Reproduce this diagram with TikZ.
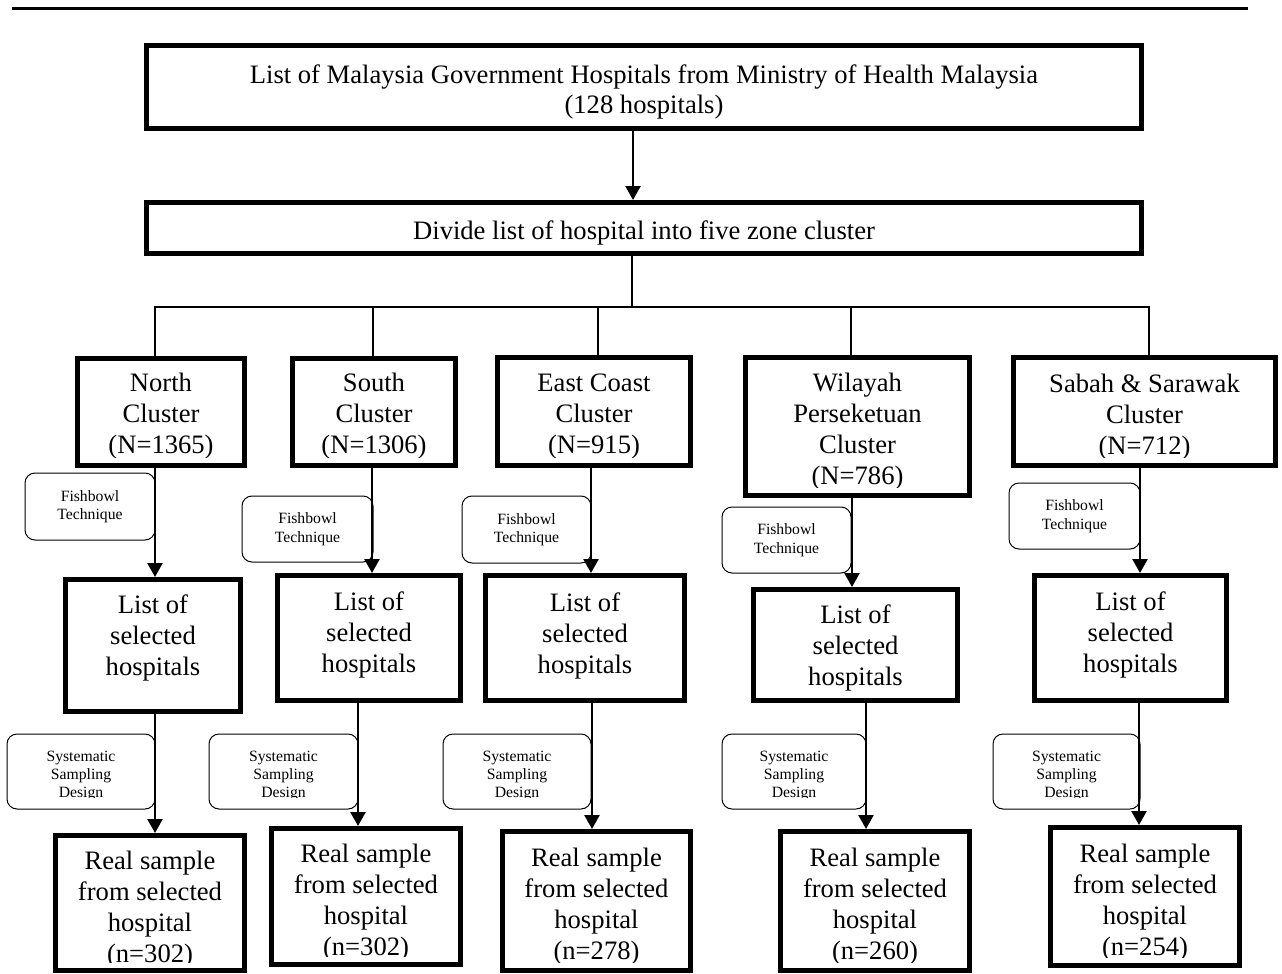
\documentclass[tikz,border=0pt]{standalone}
\usepackage{fontspec}
\setmainfont{Liberation Serif}
\usetikzlibrary{arrows.meta}
% frame node (#1) at (#2,#3), size #4 x #5, its text centred at height #6,
% cut off slightly above the lower border
\newcommand\zonebox[7]{%
  \node[bigbox, minimum width=#4pt, minimum height=#5pt] (#1) at (#2,#3) {};
  \begin{scope}
    \clip ([xshift=2.5pt,yshift=-2.5pt]#1.north west) rectangle ([xshift=-2.5pt,yshift=10.5pt]#1.south east);
    \node[boxtext] (#1t) at (#2,#6) {#7};
  \end{scope}}
\begin{document}
\begin{tikzpicture}[x=1pt,y=-1pt,
  bigbox/.style={draw, line width=5pt, rectangle, inner sep=0pt},
  boxtext/.style={align=center, inner sep=0pt, font=\fontsize{26.6}{31}\selectfont},
  note/.style={draw, line width=1pt, rounded corners=10pt, align=center, inner sep=0pt,
    minimum height=66pt, font=\fontsize{15.7}{18.5}\selectfont},
  notetext/.style={align=center, inner sep=0pt, font=\fontsize{15.7}{18}\selectfont},
  arr/.style={line width=2.5pt, -{Triangle[width=15pt,length=14pt]}},
  branch/.style={line width=2pt},
]
\useasboundingbox (0,0) rectangle (1282,974);

% header rule
\draw[line width=3pt] (12,9) -- (1248,9);

% source list and division into zones
\node[bigbox, minimum width=995pt, minimum height=83pt] (top) at (644,87) {};
\node[boxtext, font=\fontsize{26.6}{30}\selectfont] (topt) at (644,92)
  {List of Malaysia Government Hospitals from Ministry of Health Malaysia\\(128 hospitals)};
\node[bigbox, minimum width=995pt, minimum height=51pt] (divide) at (644,228) {};
\node[boxtext] (dividet) at (644,233) {Divide list of hospital into five zone cluster};
\draw[arr] ([xshift=-11pt]top.south) -- ([xshift=-11pt]divide.north);

% zone clusters
\zonebox{nc}{161}{412}{167}{107}{416}{North\\Cluster\\(N=1365)}
\zonebox{sc}{374}{412}{163}{107}{416}{South\\Cluster\\(N=1306)}
\zonebox{ec}{594}{411.5}{193}{108}{416.5}{East Coast\\Cluster\\(N=915)}
\zonebox{wc}{857.5}{426.5}{224}{138}{432}{Wilayah\\Perseketuan\\Cluster\\(N=786)}
\zonebox{bc}{1144.5}{411.5}{262}{108}{417.5}{Sabah \& Sarawak\\Cluster\\(N=712)}

% branching tree
\coordinate (hub) at (632,307);
\draw[branch] ([xshift=-12pt]divide.south) -- (hub);
\draw[branch] (hub) -| ([xshift=-6pt]nc.north);
\draw[branch] (hub) -| ([xshift=-1pt]sc.north);
\draw[branch] (hub) -| ([xshift=4pt]ec.north);
\draw[branch] (hub) -| ([xshift=-6.5pt]wc.north);
\draw[branch] (hub) -| ([xshift=4.5pt]bc.north);

% lists of selected hospitals
\zonebox{nl}{153}{645.5}{175}{132}{638}{List of\\selected\\hospitals}
\zonebox{sl}{369}{638}{183}{125}{635}{List of\\selected\\hospitals}
\zonebox{el}{585}{638}{199}{125}{635.5}{List of\\selected\\hospitals}
\zonebox{wl}{855.5}{645}{204}{111}{648}{List of\\selected\\hospitals}
\zonebox{bl}{1130.5}{638}{192}{125}{635}{List of\\selected\\hospitals}

% fishbowl labels
\node[note, minimum width=130pt, minimum height=67pt] (nf) at (90,506.5) {Fishbowl\\Technique};
\node[note, minimum width=131pt] (sf) at (307.5,529) {Fishbowl\\Technique};
\node[note, minimum width=129pt, minimum height=67pt] (ef) at (526.5,529.5) {Fishbowl\\Technique};
\node[note, minimum width=129pt] (wf) at (786.5,540) {Fishbowl\\Technique};
\node[note, minimum width=131pt] (bf) at (1074.5,516) {Fishbowl\\Technique};

\draw[arr] ([xshift=-6pt]nc.south) -- ([xshift=2pt]nl.north);
\draw[arr] ([xshift=-2pt]sc.south) -- ([xshift=3pt]sl.north);
\draw[arr] ([xshift=-3pt]ec.south) -- ([xshift=6pt]el.north);
\draw[arr] ([xshift=-5.5pt]wc.south) -- ([xshift=-3.5pt]wl.north);
\draw[arr] ([xshift=-4.5pt]bc.south) -- ([xshift=9.5pt]bl.north);

% real samples
\zonebox{nr}{150}{903}{189}{135}{910}{Real sample\\from selected\\hospital\\(n=302)}
\zonebox{sr}{366}{896.5}{189}{136}{903}{Real sample\\from selected\\hospital\\(n=302)}
\zonebox{er}{596.5}{901}{188}{139}{907}{Real sample\\from selected\\hospital\\(n=278)}
\zonebox{wr}{875}{901}{189}{139}{907}{Real sample\\from selected\\hospital\\(n=260)}
\zonebox{br}{1145}{896.5}{189}{138}{903}{Real sample\\from selected\\hospital\\(n=254)}

% systematic sampling labels (text cut off at the lower edge)
\foreach \nm/\cx/\w in {ns/81/148, ss/283.5/149, es/517/148, ws/794/144, bs/1066.5/147}{
  \node[note, minimum width=\w pt, minimum height=75pt] (\nm) at (\cx,771.5) {};
  \begin{scope}
    \clip ([yshift=-1pt]\nm.north west) rectangle ([yshift=12pt]\nm.south east);
    \node[notetext] (\nm t) at (\cx,776) {Systematic\\Sampling\\Design};
  \end{scope}
}

\draw[arr] ([xshift=2pt]nl.south) -- ([xshift=5pt]nr.north);
\draw[arr] ([xshift=-11pt]sl.south) -- ([xshift=-8pt]sr.north);
\draw[arr] ([xshift=7pt]el.south) -- ([xshift=-4.5pt]er.north);
\draw[arr] ([xshift=10.5pt]wl.south) -- ([xshift=-9pt]wr.north);
\draw[arr] ([xshift=8.5pt]bl.south) -- ([xshift=-6pt]br.north);
\end{tikzpicture}
\end{document}
